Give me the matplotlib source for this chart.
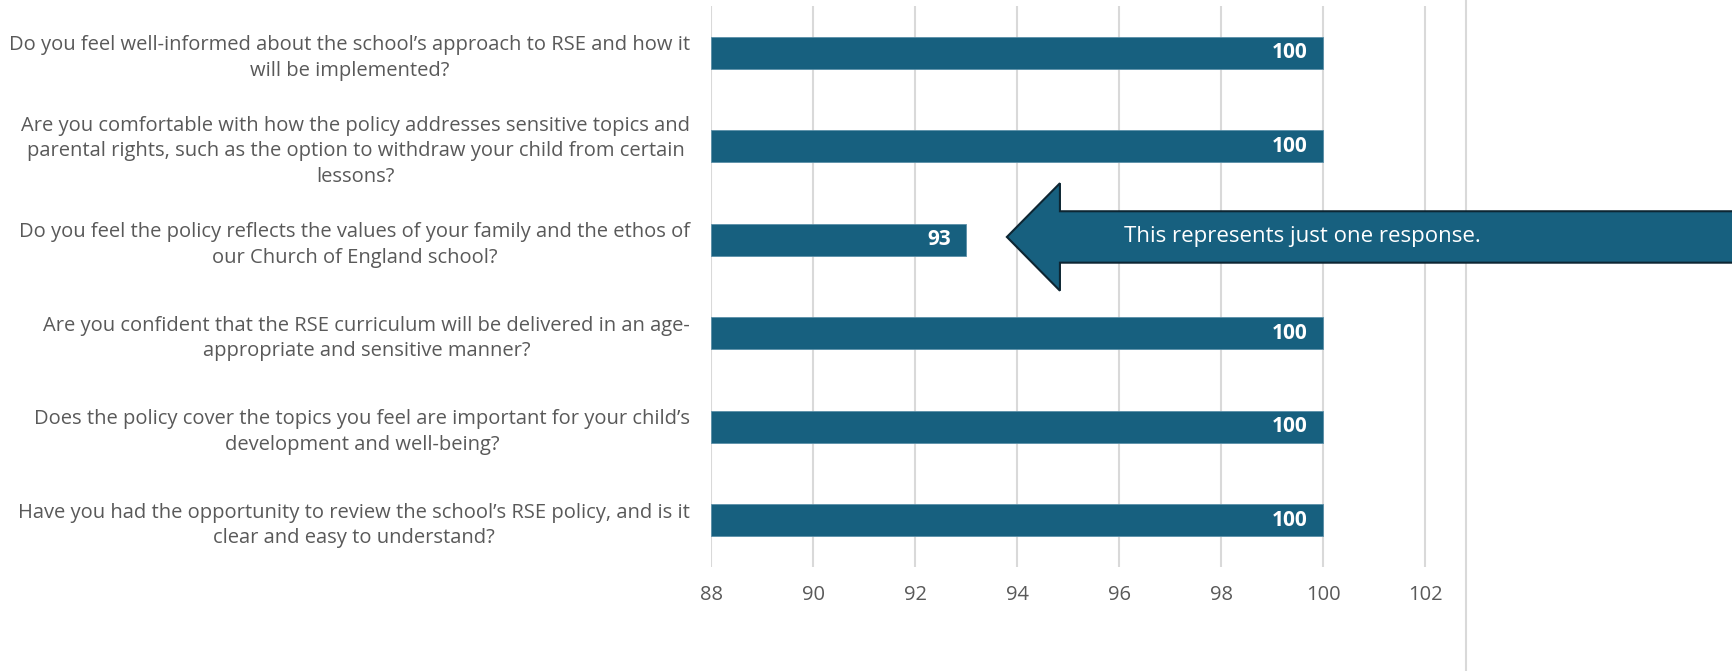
import matplotlib
matplotlib.use("Agg")
import matplotlib.pyplot as plt
from matplotlib.patches import Polygon
from matplotlib.lines import Line2D

# questions, top to bottom
questions = [
    "Do you feel well-informed about the school\u2019s approach to RSE and how it\nwill be implemented?",
    "Are you comfortable with how the policy addresses sensitive topics and\nparental rights, such as the option to withdraw your child from certain\nlessons?",
    "Do you feel the policy reflects the values of your family and the ethos of\nour Church of England school?",
    "Are you confident that the RSE curriculum will be delivered in an age-\nappropriate and sensitive manner?",
    "Does the policy cover the topics you feel are important for your child\u2019s\ndevelopment and well-being?",
    "Have you had the opportunity to review the school\u2019s RSE policy, and is it\nclear and easy to understand?",
]
scores = [100, 100, 93, 100, 100, 100]
x_ticks = [88, 90, 92, 94, 96, 98, 100, 102]
note = "This represents just one response."

bar_color = "#17607f"
text_color = "#595959"
grid_color = "#d9d9d9"

plt.rcParams['font.family'] = ['Open Sans', 'DejaVu Sans']

fig = plt.figure(figsize=(17.33, 6.71), dpi=100)
ax = fig.add_axes([0.4103, 0.155, 0.4356, 0.836])
ax.patch.set_visible(False)

ypos = list(range(len(questions)))
ax.barh(ypos, [s - 88 for s in scores], left=88, height=0.34, color=bar_color,
        edgecolor="#5b8fa8", linewidth=0.6, zorder=3)

for y, s in zip(ypos, scores):
    ax.text(s - 0.3, y, str(s), ha="right", va="center", color="white",
            fontsize=15, fontweight="bold", zorder=4)

ax.set_xlim(88, 102.8)
ax.set_ylim(len(questions) - 0.5, -0.5)
ax.set_xticks(x_ticks)
ax.set_xticklabels([str(t) for t in x_ticks])
ax.set_yticks(ypos)
ax.set_yticklabels(questions, multialignment="center", linespacing=1.35)

ax.tick_params(axis="x", length=0, pad=13, labelsize=14.5, labelcolor=text_color)
ax.tick_params(axis="y", length=0, pad=15, labelsize=14.5, labelcolor=text_color)
ax.grid(axis="x", color=grid_color, linewidth=1.5, zorder=0)
for sp in ax.spines.values():
    sp.set_visible(False)

# right border line of the chart area (behind the callout)
fig.add_artist(Line2D([0.8459, 0.8459], [0, 1], color=grid_color, linewidth=1.5,
                      transform=fig.transFigure, zorder=-1))

# callout arrow pointing at the 93 bar
yc = 1.97
tip_x = 93.8
head_x = 94.84
end_x = 110
arrow = Polygon([(tip_x, yc), (head_x, yc - 0.575), (head_x, yc - 0.275),
                 (end_x, yc - 0.275), (end_x, yc + 0.275), (head_x, yc + 0.275),
                 (head_x, yc + 0.575)],
                closed=True, facecolor=bar_color, edgecolor="#0d2633",
                linewidth=1.5, clip_on=False, zorder=5)
ax.add_patch(arrow)
ax.text(99.6, yc, note, ha="center", va="center", color="white",
        fontsize=16, clip_on=False, zorder=6)

fig.savefig("out.png", dpi=100)
